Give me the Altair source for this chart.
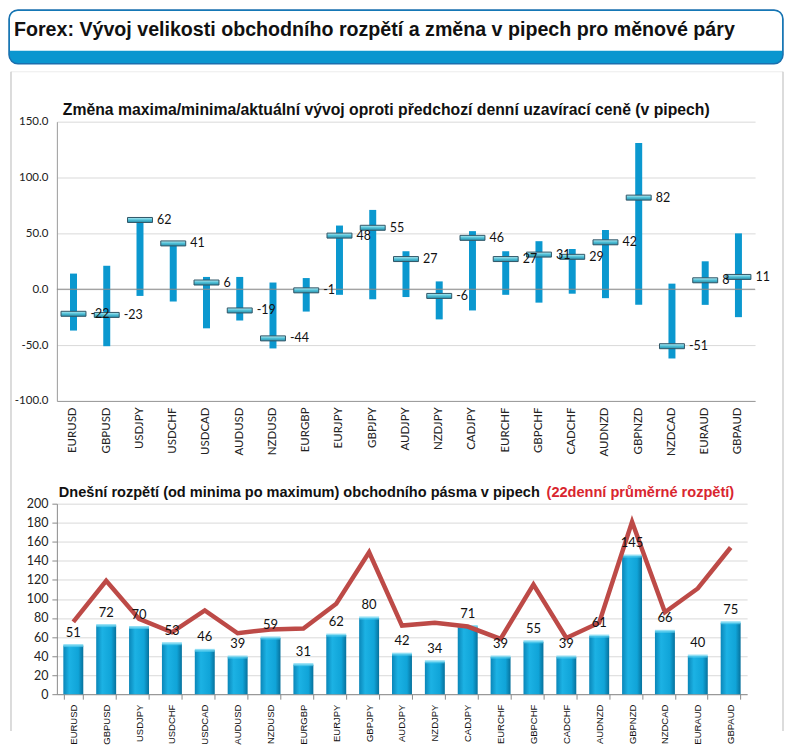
import altair as alt
import pandas as pd

# ---------------- data ----------------
pairs = ["EURUSD", "GBPUSD", "USDJPY", "USDCHF", "USDCAD", "AUDUSD", "NZDUSD",
         "EURGBP", "EURJPY", "GBPJPY", "AUDJPY", "NZDJPY", "CADJPY", "EURCHF",
         "GBPCHF", "CADCHF", "AUDNZD", "GBPNZD", "NZDCAD", "EURAUD", "GBPAUD"]
current = [-22, -23, 62, 41, 6, -19, -44, -1, 48, 55, 27, -6, 46, 27, 31, 29, 42, 82, -51, 8, 11]
high = [14, 21, 62, 41, 11, 11, 6, 10, 57, 71, 34, 7, 52, 34, 43, 36, 53, 131, 5, 25, 50]
low = [-37, -51, -6, -11, -35, -28, -53, -20, -5, -9, -7, -27, -19, -5, -12, -4, -8, -14, -62, -14, -25]
today_range = [51, 72, 70, 53, 46, 39, 59, 31, 62, 80, 42, 34, 71, 39, 55, 39, 61, 145, 66, 40, 75]
avg22 = [76, 119, 79, 65, 88, 64, 68, 69, 95, 149, 72, 75, 71, 58, 115, 59, 75, 181, 86, 111, 154]

top_ticks = [-100, -50, 0, 50, 100, 150]
bot_ticks = [0, 20, 40, 60, 80, 100, 120, 140, 160, 180, 200]

main_title = "Forex: Vývoj velikosti obchodního rozpětí a změna v pipech pro měnové páry"
top_title = "Změna maxima/minima/aktuální vývoj oproti předchozí denní uzavírací ceně (v pipech)"
bot_title_a = "Dnešní rozpětí (od minima po maximum) obchodního pásma v pipech"
bot_title_b = "(22denní průměrné rozpětí)"

top_df = pd.DataFrame({"pair": pairs, "current": current, "high": high, "low": low})
top_df["cur_label"] = [str(v) for v in current]
bot_df = pd.DataFrame({"pair": pairs, "range": today_range, "avg": avg22})
one = pd.DataFrame({"k": [0]})

# ---------------- layout (page pixels) ----------------
X0 = 56        # left edge of both plot areas
TOP_Y0 = 120   # top of upper plot
BOT_Y0 = 503   # top of lower plot
TOP_W, TOP_H = 700, 280
BOT_W, BOT_H = 692, 191

def rx(x):
    return x - X0

def ry_top(y):
    return y - TOP_Y0

def ry_bot(y):
    return y - BOT_Y0

LABEL_FONT = "Lato"
TITLE_FONT = "Liberation Sans"

# ---------------- decorations (in top chart coords) ----------------
header_outer = alt.Chart(one).mark_rect(
    fill="#0a96cf", stroke="#1a6fae", strokeWidth=1.5, cornerRadius=9
).encode(x=alt.value(rx(8)), x2=alt.value(rx(784)),
         y=alt.value(ry_top(8)), y2=alt.value(ry_top(62)))
header_inner = alt.Chart(one).mark_rect(
    fill="white", cornerRadiusTopLeft=8, cornerRadiusTopRight=8
).encode(x=alt.value(rx(9)), x2=alt.value(rx(783)),
         y=alt.value(ry_top(9)), y2=alt.value(ry_top(49)))
header_text = alt.Chart(one).mark_text(
    text=main_title, align="left", baseline="middle", font=TITLE_FONT,
    fontSize=19.7, fontWeight="bold", color="#111111"
).encode(x=alt.value(rx(13)), y=alt.value(ry_top(28)))

panel_left = alt.Chart(one).mark_rule(color="#c4c4c4", strokeWidth=1.2).encode(
    x=alt.value(rx(10)), y=alt.value(ry_top(70)), y2=alt.value(ry_top(731)))
panel_right = alt.Chart(one).mark_rule(color="#c4c4c4", strokeWidth=1.2).encode(
    x=alt.value(rx(784)), y=alt.value(ry_top(70)), y2=alt.value(ry_top(731)))
panel_top = alt.Chart(one).mark_rule(color="#ececec", strokeWidth=1).encode(
    x=alt.value(rx(10)), x2=alt.value(rx(784)), y=alt.value(ry_top(70)))

top_title_text = alt.Chart(one).mark_text(
    text=top_title, align="left", baseline="middle", font=TITLE_FONT,
    fontSize=15.8, fontWeight="bold", color="#111111"
).encode(x=alt.value(rx(62)), y=alt.value(ry_top(108)))

# ---------------- upper chart ----------------
xt = alt.X("pair:N", sort=pairs,
           scale=alt.Scale(paddingInner=0, paddingOuter=0),
           axis=alt.Axis(title=None, labelAngle=-90, labelFont=LABEL_FONT,
                         labelFontSize=11.5, labelColor="#222222", ticks=False,
                         domainColor="#9a9a9a", labelPadding=6))
yt_scale = alt.Scale(domain=[-100, 150], nice=False, zero=False)

range_bars = alt.Chart(top_df).mark_bar(size=7, color="#0b98cf").encode(
    x=xt,
    y=alt.Y("low:Q", scale=yt_scale,
            axis=alt.Axis(title=None, values=top_ticks, tickCount=len(top_ticks),
                          ticks=False,
                          labelExpr="datum.value < 0 ? '-' + format(-datum.value, '.1f') : format(datum.value, '.1f')",
                          gridColor="#d9d9d9", domainColor="#9a9a9a",
                          labelFont=LABEL_FONT, labelFontSize=11.5,
                          labelColor="#222222", labelPadding=9,
                          labelOverlap=False)),
    y2="high:Q")

zero_rule = alt.Chart(one).mark_rule(color="#8a8a8a", strokeWidth=1).encode(
    y=alt.Y("z:Q", scale=yt_scale)
).transform_calculate(z="0")

marker_grad = alt.LinearGradient(
    gradient="linear", x1=0, y1=0, x2=0, y2=1,
    stops=[alt.GradientStop(color="#b8eef5", offset=0),
           alt.GradientStop(color="#4fbfd6", offset=0.5),
           alt.GradientStop(color="#2a8fab", offset=1)])
markers = alt.Chart(top_df).mark_tick(
    size=25, thickness=5, color=marker_grad, stroke="#2f5566", strokeWidth=1,
    opacity=1
).encode(x=alt.X("pair:N", sort=pairs), y=alt.Y("current:Q", scale=yt_scale))

cur_labels = alt.Chart(top_df).mark_text(
    align="left", baseline="middle", dx=17, font=LABEL_FONT, fontSize=12.5,
    color="#111111"
).encode(x=alt.X("pair:N", sort=pairs), y=alt.Y("current:Q", scale=yt_scale),
         text="cur_label:N")

top_chart = alt.layer(
    header_outer, header_inner, header_text, panel_top, panel_left, panel_right,
    top_title_text, range_bars, zero_rule, markers, cur_labels
).properties(width=TOP_W, height=TOP_H)

# ---------------- lower chart ----------------
xb = alt.X("pair:N", sort=pairs,
           scale=alt.Scale(paddingInner=0.4, paddingOuter=0.2),
           axis=alt.Axis(title=None, labelAngle=-90, labelFont="Liberation Sans",
                         labelFontSize=9.5, labelColor="#111111", tickBand="extent",
                         tickColor="#8a8a8a", tickSize=5, domainColor="#8a8a8a",
                         labelPadding=5))
yb_scale = alt.Scale(domain=[0, 200], nice=False)

bar_grad = alt.LinearGradient(
    gradient="linear", x1=0, y1=0, x2=1, y2=0,
    stops=[alt.GradientStop(color="#0a86b8", offset=0),
           alt.GradientStop(color="#1cb2e4", offset=0.3),
           alt.GradientStop(color="#10a4d8", offset=0.75),
           alt.GradientStop(color="#07719c", offset=1)])

bars = alt.Chart(bot_df).mark_bar(color=bar_grad, size=20).encode(
    x=xb,
    y=alt.Y("range:Q", scale=yb_scale,
            axis=alt.Axis(title=None, values=bot_ticks, tickCount=len(bot_ticks),
                          tickColor="#8a8a8a",
                          tickSize=5, gridColor="#d9d9d9", domainColor="#8a8a8a",
                          labelFont=LABEL_FONT, labelFontSize=12.5,
                          labelColor="#222222", labelPadding=4,
                          labelOverlap=False)))

bar_caps = alt.Chart(bot_df).mark_tick(
    size=20, thickness=3, color="#5fd0f0"
).encode(x=alt.X("pair:N", sort=pairs), y=alt.Y("range:Q", scale=yb_scale))

avg_line = alt.Chart(bot_df).mark_line(
    color="#bd4a47", strokeWidth=4.5, strokeJoin="miter"
).encode(x=alt.X("pair:N", sort=pairs), y=alt.Y("avg:Q", scale=yb_scale))

bar_labels = alt.Chart(bot_df).mark_text(
    baseline="bottom", dy=-6, font=LABEL_FONT, fontSize=13, color="#111111"
).encode(x=alt.X("pair:N", sort=pairs), y=alt.Y("range:Q", scale=yb_scale),
         text=alt.Text("range:Q", format="d"))

bot_title_left = alt.Chart(one).mark_text(
    text=bot_title_a, align="left", baseline="middle", font=TITLE_FONT,
    fontSize=14.6, fontWeight="bold", color="#111111"
).encode(x=alt.value(rx(58)), y=alt.value(ry_bot(492)))
bot_title_right = alt.Chart(one).mark_text(
    text=bot_title_b, align="right", baseline="middle", font=TITLE_FONT,
    fontSize=14.6, fontWeight="bold", color="#d9262f"
).encode(x=alt.value(rx(735)), y=alt.value(ry_bot(492)))

bot_chart = alt.layer(
    bars, bar_caps, avg_line, bar_labels, bot_title_left, bot_title_right
).properties(width=BOT_W, height=BOT_H)

chart = alt.vconcat(
    top_chart, bot_chart, spacing=BOT_Y0 - TOP_Y0 - TOP_H, bounds="flush"
).properties(padding=0, background="white").configure_view(stroke=None)

chart.save("out.html", embed_options={"renderer": "svg", "actions": False})
